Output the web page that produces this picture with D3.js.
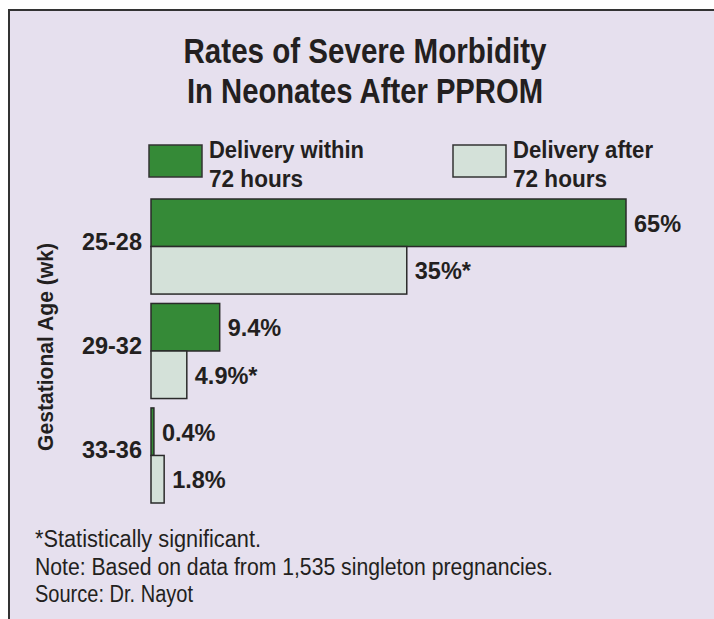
<!DOCTYPE html>
<html>
<head>
<meta charset="utf-8">
<script src="https://cdn.jsdelivr.net/npm/d3@7"></script>
<style>
  html, body { margin: 0; padding: 0; background: #fff; }
  svg { display: block; }
</style>
</head>
<body>
<svg id="chart"></svg>
<script>
// chart data
const ageGroups = ["25-28", "29-32", "33-36"];
const seriesNames = [["Delivery within", "72 hours"], ["Delivery after", "72 hours"]];
const within72 = [65, 9.4, 0.4];
const after72 = [35, 4.9, 1.8];
const significant = [[false, true], [false, true], [false, false]];
const titleLines = ["Rates of Severe Morbidity", "In Neonates After PPROM"];
const notes = [
    "*Statistically significant.",
    "Note: Based on data from 1,535 singleton pregnancies.",
    "Source: Dr. Nayot"
];

function main() {
    const width = 714, height = 619;
    const font = "'Liberation Sans', Arial, Helvetica, sans-serif";
    const ink = "#231f20";
    const fills = ["#358a37", "#d4e1d9"];

    const svg = d3.select("svg#chart")
        .attr("width", width)
        .attr("height", height)
        .attr("font-family", font);

    // panel
    svg.append("rect")
        .attr("x", 9).attr("y", 10)
        .attr("width", width).attr("height", height)
        .attr("fill", "#e6e0ee")
        .attr("stroke", "#333")
        .attr("stroke-width", 2);

    // title (condensed face -> squeeze with textLength)
    const titleWidths = [363, 356];
    titleLines.forEach((t, i) => {
        svg.append("text")
            .attr("x", 365).attr("y", 63 + i * 40)
            .attr("text-anchor", "middle")
            .attr("font-weight", "bold")
            .attr("font-size", 35)
            .attr("fill", ink)
            .attr("textLength", titleWidths[i])
            .attr("lengthAdjust", "spacingAndGlyphs")
            .text(t);
    });

    // legend
    const legendX = [149, 453];
    const legendWidths = [[155, 94], [140, 94]];
    seriesNames.forEach((name, i) => {
        svg.append("rect")
            .attr("x", legendX[i]).attr("y", 145)
            .attr("width", 53).attr("height", 32)
            .attr("fill", fills[i])
            .attr("stroke", "#333")
            .attr("stroke-width", 1.5);
        name.forEach((line, j) => {
            svg.append("text")
                .attr("x", legendX[i] + 60).attr("y", 158 + j * 29)
                .attr("font-weight", "bold")
                .attr("font-size", 24)
                .attr("fill", ink)
                .attr("textLength", legendWidths[i][j])
                .attr("lengthAdjust", "spacingAndGlyphs")
                .text(line);
        });
    });

    // scales
    const x = d3.scaleLinear().domain([0, 65]).range([151, 626]);
    const y = d3.scaleBand().domain(ageGroups).range([199, 503]).paddingInner(0.09).paddingOuter(0);
    const ySub = d3.scaleBand().domain([0, 1]).range([0, y.bandwidth()]);

    const rows = ageGroups.map((g, i) => ({ group: g, values: [within72[i], after72[i]], sig: significant[i] }));

    const groups = svg.selectAll("g.age")
        .data(rows)
        .join("g")
        .attr("class", "age")
        .attr("transform", d => `translate(0,${y(d.group)})`);

    groups.selectAll("rect")
        .data(d => d.values.map((v, k) => ({ v, k })))
        .join("rect")
        .attr("x", x(0))
        .attr("y", d => ySub(d.k))
        .attr("width", d => Math.max(x(d.v) - x(0), 2))
        .attr("height", ySub.bandwidth())
        .attr("fill", d => fills[d.k])
        .attr("stroke", "#2a2a2a")
        .attr("stroke-width", 1.5);

    groups.selectAll("text.val")
        .data(d => d.values.map((v, k) => ({ v, k, sig: d.sig[k] })))
        .join("text")
        .attr("class", "val")
        .attr("x", d => x(d.v) + 8)
        .attr("y", d => ySub(d.k) + ySub.bandwidth() / 2 + 9)
        .attr("font-weight", "bold")
        .attr("font-size", 23.5)
        .attr("fill", ink)
        .text(d => d.v + "%" + (d.sig ? "*" : ""));

    // category labels
    groups.append("text")
        .attr("x", 142)
        .attr("y", ySub.bandwidth() + 3)
        .attr("text-anchor", "end")
        .attr("font-weight", "bold")
        .attr("font-size", 23.5)
        .attr("fill", ink)
        .text(d => d.group);

    // axis title
    svg.append("text")
        .attr("transform", "translate(53,347) rotate(-90)")
        .attr("text-anchor", "middle")
        .attr("font-weight", "bold")
        .attr("font-size", 21.5)
        .attr("fill", ink)
        .attr("textLength", 208)
        .attr("lengthAdjust", "spacingAndGlyphs")
        .text("Gestational Age (wk)");

    // notes
    const noteWidths = [226, 518, 158];
    notes.forEach((n, i) => {
        svg.append("text")
            .attr("x", 35)
            .attr("y", 547 + i * 27.5)
            .attr("font-size", 23)
            .attr("fill", ink)
            .attr("textLength", noteWidths[i])
            .attr("lengthAdjust", "spacingAndGlyphs")
            .text(n);
    });
}

main()
</script>
</body>
</html>
